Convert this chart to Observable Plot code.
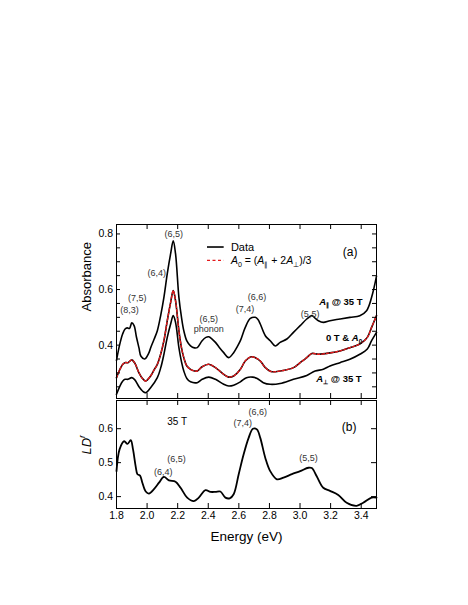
<!DOCTYPE html>
<html><head><meta charset="utf-8">
<script src="https://cdn.jsdelivr.net/npm/d3@7"></script>
<script src="https://cdn.jsdelivr.net/npm/@observablehq/plot@0.6"></script>
<style>
html,body{margin:0;padding:0;background:#fff;}
#chart{position:relative;width:468px;height:605px;}
#chart svg{display:block;overflow:visible;}
</style></head><body><div id="chart"></div>
<script>
// ---------------- data ----------------
// (a) A_parallel @ 35 T
const energyPar = [1.80,1.82,1.84,1.856,1.87,1.885,1.90,1.915,1.93,1.947,1.96,1.985,2.01,2.023,2.045,2.067,2.09,2.11,2.132,2.154,2.171,2.186,2.208,2.225,2.24,2.26,2.284,2.31,2.328,2.36,2.385,2.403,2.425,2.447,2.475,2.501,2.534,2.566,2.59,2.61,2.642,2.675,2.707,2.725,2.74,2.773,2.805,2.838,2.87,2.914,2.957,3.001,3.044,3.077,3.10,3.12,3.152,3.196,3.261,3.326,3.391,3.435,3.468,3.50];
const absPar    = [0.345,0.40,0.44,0.458,0.462,0.46,0.48,0.47,0.43,0.39,0.36,0.35,0.37,0.39,0.42,0.452,0.51,0.572,0.657,0.729,0.775,0.729,0.572,0.50,0.452,0.415,0.397,0.39,0.391,0.416,0.428,0.43,0.422,0.41,0.39,0.373,0.355,0.373,0.395,0.416,0.464,0.496,0.50,0.492,0.476,0.434,0.416,0.397,0.41,0.422,0.446,0.47,0.494,0.506,0.496,0.488,0.482,0.488,0.494,0.50,0.506,0.524,0.572,0.648];
// (a) 0 T
const energyZero = [1.80,1.82,1.84,1.856,1.875,1.90,1.92,1.947,1.97,1.99,2.023,2.045,2.067,2.09,2.11,2.132,2.154,2.171,2.186,2.208,2.225,2.24,2.26,2.284,2.31,2.328,2.36,2.403,2.447,2.501,2.534,2.566,2.61,2.642,2.68,2.707,2.74,2.773,2.81,2.87,2.957,3.001,3.044,3.077,3.12,3.196,3.261,3.326,3.391,3.44,3.468,3.50];
const absZero    = [0.283,0.31,0.33,0.337,0.337,0.347,0.335,0.30,0.28,0.271,0.289,0.31,0.331,0.37,0.416,0.488,0.554,0.596,0.56,0.452,0.39,0.355,0.325,0.313,0.307,0.307,0.322,0.331,0.319,0.295,0.285,0.289,0.313,0.343,0.358,0.355,0.343,0.319,0.305,0.307,0.319,0.337,0.355,0.37,0.367,0.372,0.379,0.391,0.404,0.428,0.464,0.506];
// (a) A_perp @ 35 T
const energyPerp = [1.80,1.82,1.84,1.856,1.875,1.90,1.92,1.947,1.97,1.99,2.023,2.067,2.09,2.11,2.132,2.154,2.171,2.186,2.208,2.225,2.24,2.26,2.284,2.328,2.36,2.403,2.447,2.501,2.534,2.566,2.61,2.65,2.69,2.72,2.76,2.805,2.87,2.957,3.044,3.099,3.152,3.196,3.261,3.326,3.391,3.44,3.468,3.50];
const absPerp    = [0.223,0.25,0.27,0.277,0.277,0.283,0.275,0.25,0.235,0.229,0.247,0.283,0.32,0.367,0.428,0.476,0.506,0.482,0.391,0.34,0.307,0.28,0.268,0.265,0.277,0.285,0.277,0.259,0.253,0.256,0.268,0.283,0.285,0.28,0.265,0.259,0.262,0.277,0.291,0.307,0.313,0.325,0.337,0.349,0.367,0.386,0.416,0.446];
// (b) reduced linear dichroism LD^r @ 35 T
const energyLD = [1.80,1.82,1.85,1.872,1.893,1.908,1.925,1.937,1.954,1.969,1.991,2.012,2.045,2.078,2.11,2.143,2.186,2.219,2.262,2.306,2.338,2.382,2.414,2.447,2.479,2.512,2.54,2.566,2.599,2.631,2.664,2.692,2.718,2.74,2.773,2.805,2.849,2.892,2.947,3.001,3.055,3.077,3.109,3.152,3.196,3.25,3.305,3.37,3.413,3.468,3.50];
const ldValues = [0.475,0.539,0.563,0.555,0.566,0.539,0.49,0.466,0.462,0.441,0.415,0.409,0.422,0.441,0.458,0.448,0.444,0.426,0.397,0.387,0.397,0.419,0.414,0.414,0.415,0.397,0.395,0.407,0.466,0.524,0.573,0.60,0.598,0.573,0.514,0.475,0.451,0.456,0.466,0.475,0.485,0.484,0.46,0.426,0.417,0.405,0.382,0.373,0.382,0.397,0.397];

// ticks
const xTickValues = [2.0,2.2,2.4,2.6,2.8,3.0,3.2,3.4];
const xTickLabels = ["1.8","2.0","2.2","2.4","2.6","2.8","3.0","3.2","3.4"];
const xLabelValues = [1.8,2.0,2.2,2.4,2.6,2.8,3.0,3.2,3.4];
const yTickA = [0.25,0.3,0.35,0.4,0.45,0.5,0.55,0.6,0.65,0.7,0.75,0.8];
const yLabelA = [0.4,0.6,0.8];
const yTickB = [0.4,0.5,0.6];
const yLabelB = [0.4,0.5,0.6];

// annotation texts
const peakLabelsA = [
  {t:"(8,3)", x:1.885, y:0.527},
  {t:"(7,5)", x:1.935, y:0.568},
  {t:"(6,4)", x:2.063, y:0.660},
  {t:"(6,5)", x:2.175, y:0.799},
  {t:"(6,5)", x:2.403, y:0.494},
  {t:"phonon", x:2.403, y:0.458},
  {t:"(7,4)", x:2.640, y:0.528},
  {t:"(6,6)", x:2.719, y:0.571},
  {t:"(5,5)", x:3.066, y:0.512}
];
const curveLabelsA = [
  {t:"*A*_{∥} @ 35 T", x:3.409, y:0.557},
  {t:"0 T & *A*_{0}", x:3.407, y:0.425},
  {t:"*A*_{⊥} @ 35 T", x:3.403, y:0.280}
];
const legendItems = ["Data", "*A*_{0} = (*A*_{∥} + 2*A*_{⊥})/3"];
const peakLabelsB = [
  {t:"(6,6)", x:2.724, y:0.650},
  {t:"(7,4)", x:2.626, y:0.615},
  {t:"(6,5)", x:2.193, y:0.510},
  {t:"(6,4)", x:2.105, y:0.473},
  {t:"(5,5)", x:3.056, y:0.513}
];

// ---------------- layout ----------------
const FONT = '"Liberation Sans", Arial, Helvetica, sans-serif';
const W = 468, LEFT = 116, RIGHT = 376;
const plotW = RIGHT - LEFT;
const xDomain = [1.8, 3.5];
const toRows = (xs, ys) => xs.map((x, i) => ({x, y: ys[i]}));

const hA = 399, mTopA = 224, mBotA = 1, phA = hA - mTopA - mBotA;
const hB = 206, mTopB = 1, mBotB = 97, phB = hB - mTopB - mBotB;

const frameTicksX = (ph) => [
  Plot.tickX(xTickValues, {x: d => d, stroke: "black", insetTop: ph - 5}),
  Plot.tickX(xTickValues, {x: d => d, stroke: "black", insetBottom: ph - 5})
];
const frameTicksY = (vals, len) => [
  Plot.tickY(vals, {y: d => d, stroke: "black", insetRight: plotW - len}),
  Plot.tickY(vals, {y: d => d, stroke: "black", insetLeft: plotW - len})
];

const plotA = Plot.plot({
  width: W, height: hA,
  marginLeft: LEFT, marginRight: W - RIGHT, marginTop: mTopA, marginBottom: mBotA,
  x: {domain: xDomain, axis: null},
  y: {domain: [0.208, 0.834], axis: null},
  style: {fontFamily: FONT, background: "transparent", overflow: "visible", color: "black"},
  marks: [
    Plot.line(toRows(energyPar, absPar), {x: "x", y: "y", stroke: "black", strokeWidth: 1.6, curve: "catmull-rom"}),
    Plot.line(toRows(energyZero, absZero), {x: "x", y: "y", stroke: "black", strokeWidth: 1.6, curve: "catmull-rom"}),
    Plot.line(toRows(energyZero, absZero), {x: "x", y: "y", stroke: "#e41a1c", strokeWidth: 1.4, strokeDasharray: "2.5,2", curve: "catmull-rom"}),
    Plot.line(toRows(energyPerp, absPerp), {x: "x", y: "y", stroke: "black", strokeWidth: 1.6, curve: "catmull-rom"}),
    Plot.frame({stroke: "black", strokeWidth: 1}),
    ...frameTicksX(phA),
    ...frameTicksY(yTickA, 4),
    Plot.text(yLabelA, {y: d => d, text: d => d.toFixed(1), frameAnchor: "left", dx: -3.5, textAnchor: "end", fontSize: 10.5, fill: "black"}),
    Plot.text(["Absorbance"], {frameAnchor: "left", dx: -30, rotate: -90, fontSize: 13, fill: "black", text: d => d}),
    Plot.text(peakLabelsA, {x: "x", y: "y", text: "t", fontSize: 9, fill: "#333"}),
    Plot.text(curveLabelsA, {x: "x", y: "y", text: "t", fontSize: 9.5, fontWeight: "bold", textAnchor: "end", fill: "black"}),
    Plot.text(["(a)"], {frameAnchor: "top-right", dx: -19, dy: 23, fontSize: 12, fill: "black", text: d => d}),
    // legend
    Plot.ruleY([0.753], {x1: 2.395, x2: 2.504, stroke: "black", strokeWidth: 1.6}),
    Plot.ruleY([0.705], {x1: 2.395, x2: 2.504, stroke: "#e41a1c", strokeWidth: 1.4, strokeDasharray: "3,2.5"}),
    Plot.text([legendItems[0]], {x: () => 2.548, y: () => 0.753, text: d => d, textAnchor: "start", fontSize: 11, fill: "black"}),
    Plot.text([legendItems[1]], {x: () => 2.548, y: () => 0.705, text: d => d, textAnchor: "start", fontSize: 10.5, fill: "black"})
  ]
});

const plotB = Plot.plot({
  width: W, height: hB,
  marginLeft: LEFT, marginRight: W - RIGHT, marginTop: mTopB, marginBottom: mBotB,
  x: {domain: xDomain, axis: null},
  y: {domain: [0.365, 0.683], axis: null},
  style: {fontFamily: FONT, background: "transparent", overflow: "visible", color: "black"},
  marks: [
    Plot.line(toRows(energyLD, ldValues), {x: "x", y: "y", stroke: "black", strokeWidth: 1.8, curve: "catmull-rom"}),
    Plot.frame({stroke: "black", strokeWidth: 1}),
    ...frameTicksX(phB),
    ...frameTicksY(yTickB, 5),
    Plot.text(yLabelB, {y: d => d, text: d => d.toFixed(1), frameAnchor: "left", dx: -3.5, textAnchor: "end", fontSize: 10.5, fill: "black"}),
    Plot.text(xLabelValues, {x: d => d, text: (d, i) => xTickLabels[i], frameAnchor: "bottom", dy: 10.5, fontSize: 10.5, fill: "black"}),
    Plot.text(["*LD*^{*r*}"], {frameAnchor: "left", dx: -30, rotate: -90, fontSize: 13, fill: "black", text: d => d}),
    Plot.text(["Energy (eV)"], {frameAnchor: "bottom", dy: 32, fontSize: 13.5, fill: "black", text: d => d}),
    Plot.text(["35 T"], {x: () => 2.197, y: () => 0.62, text: d => d, fontSize: 10, fill: "black"}),
    Plot.text(peakLabelsB, {x: "x", y: "y", text: "t", fontSize: 9, fill: "#333"}),
    Plot.text(["(b)"], {frameAnchor: "top-right", dx: -20, dy: 22, fontSize: 12, fill: "black", text: d => d})
  ]
});

const chart = document.getElementById("chart");
chart.appendChild(plotA);
chart.appendChild(plotB);

// rich text: *italic*, _{sub}, ^{sup}
function richify(svg) {
  svg.querySelectorAll("text").forEach(t => {
    const s = t.textContent;
    if (!/[*]|_\{|\^\{/.test(s)) return;
    const fs = parseFloat(getComputedStyle(t).fontSize) || 10;
    const parts = s.split(/(_\{[^}]*\}|\^\{[^}]*\})/g).filter(p => p.length);
    while (t.firstChild) t.removeChild(t.firstChild);
    let shift = 0;
    const NS = "http://www.w3.org/2000/svg";
    parts.forEach(p => {
      let target = 0, inner = p, small = false;
      if (p.startsWith("_{")) { target = 0.28 * fs; inner = p.slice(2, -1); small = true; }
      else if (p.startsWith("^{")) { target = -0.4 * fs; inner = p.slice(2, -1); small = true; }
      const segs = inner.split(/(\*[^*]+\*)/g).filter(q => q.length);
      segs.forEach((q, k) => {
        const ts = document.createElementNS(NS, "tspan");
        if (q.startsWith("*")) { ts.setAttribute("font-style", "italic"); q = q.slice(1, -1); }
        if (small) ts.setAttribute("font-size", (fs * 0.68).toFixed(2));
        if (k === 0 && target !== shift) { ts.setAttribute("dy", (target - shift).toFixed(2)); shift = target; }
        ts.textContent = q;
        t.appendChild(ts);
      });
    });
  });
}
richify(plotA);
richify(plotB);
</script></body></html>
